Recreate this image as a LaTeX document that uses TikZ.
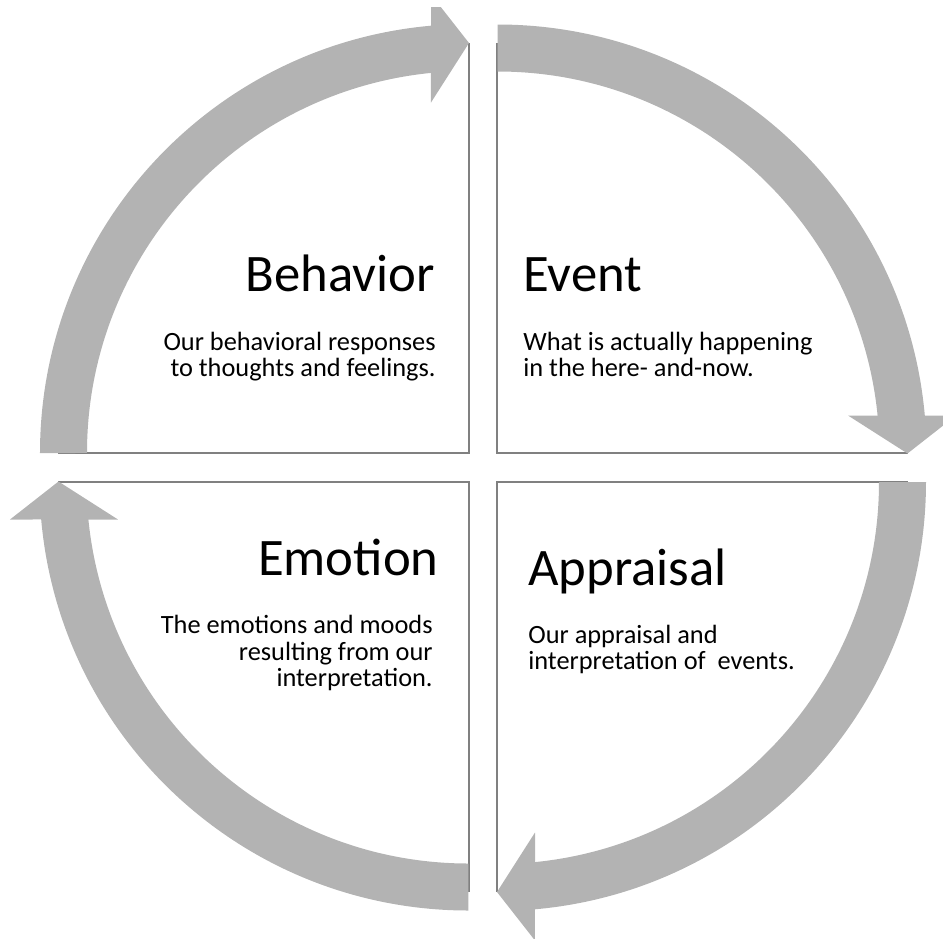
\documentclass[tikz,border=0pt]{standalone}
\usepackage{fontspec}
\setmainfont{Carlito}
\usetikzlibrary{positioning}

\definecolor{arrowgray}{RGB}{179,179,179}
\definecolor{boxgray}{RGB}{128,128,128}

\tikzset{
  quad/.style={draw=boxgray, line width=0.8pt},
  head/.style={inner sep=0pt, font=\fontsize{30}{36}\selectfont},
  body/.style={inner sep=0pt, font=\fontsize{15}{15.3}\selectfont},
}

\begin{document}
\begin{tikzpicture}[x=0.02cm, y=0.02cm]
\useasboundingbox (-483,-470.5) rectangle (460,467.5);
% quadrants (inner edges only)
\draw[quad] (-424.5,14.5) -- (-14,14.5) -- (-14,424.5);
\draw[quad] (424.5,14.5) -- (14,14.5) -- (14,424.5);
\draw[quad] (-424.5,-14.5) -- (-14,-14.5) -- (-14,-424.5);
\draw[quad] (424.5,-14.5) -- (14,-14.5) -- (14,-424.5);
% cycle arrows
\begin{scope}
\clip (-483,-470.5) rectangle (460,460.5);
\foreach \r in {0,-90,-180,-270}
  \fill[arrowgray, rotate=\r]
    (-443,14.5) arc[start angle=180, end angle=95.08, radius=429]
    -- (-52,473) -- (-14,424.5) -- (-52,365) -- (-52,394.6)
    arc[start angle=95.71, end angle=180, radius=382] -- cycle;
\end{scope}
% texts
\node[head, anchor=base east] (behavior) at (-48,176.5) {Behavior};
\node[body, align=right, below=1.72cm of behavior.base east, anchor=base east, xshift=0.02cm]
    (behaviortxt) {Our behavioral responses\\to thoughts and feelings.};
\node[head, anchor=base west] (event) at (40,176.5) {Event};
\node[body, align=left, below=1.72cm of event.base west, anchor=base west]
    (eventtxt) {What is actually happening\\in the here- and-now.};
\node[head, anchor=base east] (emotion) at (-44,-107.5) {Emotion};
\node[body, align=right, below=2.24cm of emotion.base east, anchor=base east, xshift=-0.12cm]
    (emotiontxt) {The emotions and moods\\resulting from our\\interpretation.};
\node[head, anchor=base west] (appraisal) at (45,-117.5) {Appraisal};
\node[body, align=left, below=1.70cm of appraisal.base west, anchor=base west]
    (appraisaltxt) {Our appraisal and\\interpretation of~ events.};
\end{tikzpicture}
\end{document}
